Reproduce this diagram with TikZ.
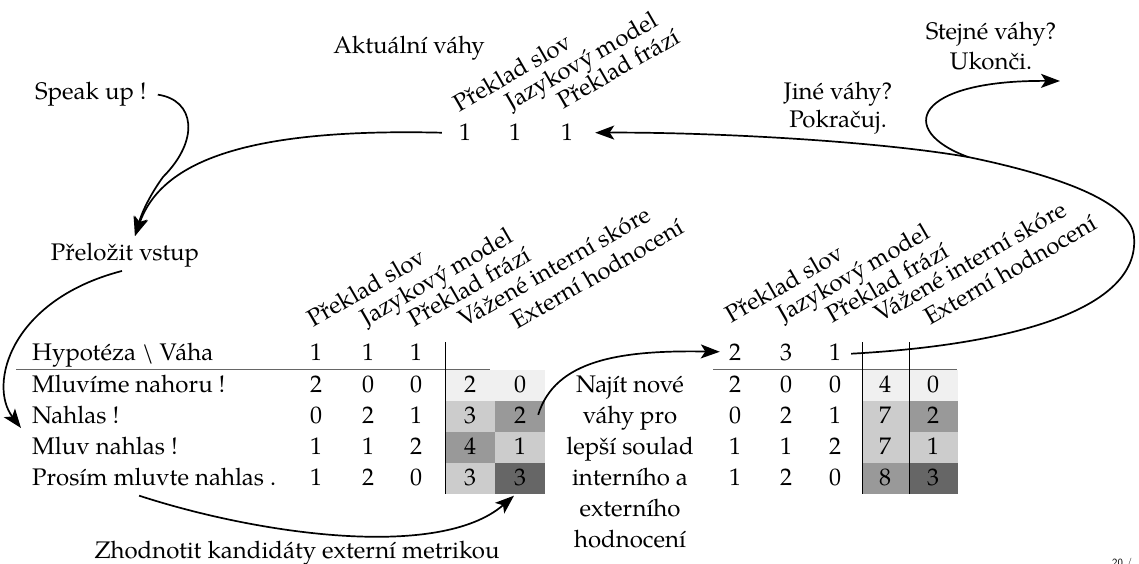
\documentclass[tikz,border=0pt]{standalone}
\usepackage{fontspec}
\setmainfont{TeX Gyre Pagella}
\usetikzlibrary{arrows.meta}
\definecolor{cA}{gray}{0.94}
\definecolor{cB}{gray}{0.80}
\definecolor{cC}{gray}{0.60}
\definecolor{cD}{gray}{0.40}
\begin{document}
\begin{tikzpicture}[x=1pt,y=-1pt,
  txt/.style={inner sep=0pt,font=\fontsize{24}{29}\selectfont},
  lbl/.style={txt,anchor=base},
  lblw/.style={txt,anchor=base west},
  hdr/.style={txt,anchor=base west,rotate=30},
  conn/.style={line width=1.7pt,-{Stealth[length=19pt,width=14pt,inset=4.5pt]}},
  hrule/.style={line width=1.5pt,draw=black!60},
  vrule/.style={line width=0.9pt},
]
\useasboundingbox (0,0) rectangle (1139,564);

% ---------- top: current weights ----------
\node[lbl] (akt) at (409,54) {Aktuální váhy};
\node[hdr] (t1) at (459,113) {Překlad slov};
\node[hdr] (t2) at (511,111) {Jazykový model};
\node[hdr] (t3) at (563,110) {Překlad frází};
\node[lbl] (w1) at (465,141) {1};
\node[lbl] (w2) at (515,141) {1};
\node[lbl] (w3) at (567,141) {1};

\node[lblw] (speak) at (35,100) {Speak up !};
\node[lbl] (trans) at (125,260) {Přeložit vstup};
\node[lbl] (jine1) at (838,100) {Jiné váhy?};
\node[lbl] (jine2) at (838,128) {Pokračuj.};
\node[lbl] (stej1) at (991,40) {Stejné váhy?};
\node[lbl] (stej2) at (991,70) {Ukonči.};

% ---------- left table ----------
\foreach \i/\a/\b in {1/cA/cA, 2/cB/cC, 3/cC/cB, 4/cB/cD} {
  \fill[\a] (445,{338.5+31*\i}) rectangle (495,{369.5+31*\i});
  \fill[\b] (495,{338.5+31*\i}) rectangle (545,{369.5+31*\i});
}
\draw[hrule] (16,369.5) -- (490,369.5);
\draw[vrule] (445,342) -- (445,493.5);

\node[hdr] (lt1) at (313,328) {Překlad slov};
\node[hdr] (lt2) at (366,327) {Jazykový model};
\node[hdr] (lt3) at (414,328) {Překlad frází};
\node[hdr] (lt4) at (464,328) {Vážené interní skóre};
\node[hdr] (lt5) at (517,330) {Externí hodnocení};

\node[lblw] (hyp) at (32,360) {Hypotéza \textbackslash{} Váha};
\node[lbl] (lh1) at (316,360) {1};
\node[lbl] (lh2) at (368,360) {1};
\node[lbl] (lh3) at (416,360) {1};

\foreach \i/\t/\a/\b/\c/\d/\e in {
  1/{Mluvíme nahoru !}/2/0/0/2/0,
  2/{Nahlas !}/0/2/1/3/2,
  3/{Mluv nahlas !}/1/1/2/4/1,
  4/{Prosím mluvte nahlas .}/1/2/0/3/3} {
  \pgfmathsetmacro\yy{361+31*\i}
  \node[lblw] (r\i) at (32,\yy) {\t};
  \node[lbl] (la\i) at (316,\yy) {\a};
  \node[lbl] (lb\i) at (368,\yy) {\b};
  \node[lbl] (lc\i) at (416,\yy) {\c};
  \node[lbl] (ld\i) at (470,\yy) {\d};
  \node[lbl] (le\i) at (520,\yy) {\e};
}

\node[lbl] (zh) at (297,558) {Zhodnotit kandidáty externí metrikou};

% ---------- middle text ----------
\node[lbl] (n1) at (630,392) {Najít nové};
\node[lbl] (n2) at (630,423) {váhy pro};
\node[lbl] (n3) at (630,454) {lepší soulad};
\node[lbl] (n4) at (630,485) {interního a};
\node[lbl] (n5) at (630,516) {externího};
\node[lbl] (n6) at (630,547) {hodnocení};

% ---------- right table ----------
\foreach \i/\a/\b in {1/cA/cA, 2/cB/cC, 3/cB/cB, 4/cC/cD} {
  \fill[\a] (862,{338.5+31*\i}) rectangle (909,{369.5+31*\i});
  \fill[\b] (909,{338.5+31*\i}) rectangle (958,{369.5+31*\i});
}
\draw[hrule] (713,369.5) -- (957,369.5);
\draw[vrule] (862,342) -- (862,493.5);
\draw[vrule] (909,342) -- (909,493.5);

\node[hdr] (rt1) at (731,324) {Překlad slov};
\node[hdr] (rt2) at (783,323) {Jazykový model};
\node[hdr] (rt3) at (832,324) {Překlad frází};
\node[hdr] (rt4) at (880,323) {Vážené interní skóre};
\node[hdr] (rt5) at (930,326) {Externí hodnocení};

\node[lbl] (ra0) at (735,360) {2};
\node[lbl] (rb0) at (786,360) {3};
\node[lbl] (rc0) at (835,360) {1};

\foreach \i/\a/\b/\c/\d/\e in {
  1/2/0/0/4/0,
  2/0/2/1/7/2,
  3/1/1/2/7/1,
  4/1/2/0/8/3} {
  \pgfmathsetmacro\yy{361+31*\i}
  \node[lbl] (ra\i) at (735,\yy) {\a};
  \node[lbl] (rb\i) at (786,\yy) {\b};
  \node[lbl] (rc\i) at (835,\yy) {\c};
  \node[lbl] (rd\i) at (885,\yy) {\d};
  \node[lbl] (re\i) at (933,\yy) {\e};
}

\node[font=\sffamily\fontsize{11}{12}\selectfont,anchor=north west,inner sep=0pt] (pg) at (1112,558) {20 /};

% ---------- connectors ----------
\coordinate (tin) at (135,236);
\coordinate (nin) at (21,428);
\coordinate (fork) at (968,157);
\coordinate (loopend) at (1060,81);

\draw[conn] ([xshift=11pt]speak.east) .. controls (195,100) and (200,140) .. (163,177)
  .. controls (150,195) and (142,212) .. (tin);
\draw[conn] ([xshift=-17pt]w1.west) .. controls (250,128) and (162,160) .. (tin);
\draw[conn] ([xshift=-3pt,yshift=-4pt]trans.south) .. controls (10,300) and (-12,385) .. (nin);
\draw[conn] ([xshift=-15pt,yshift=-10pt]r4.south) .. controls (260,535) and (440,560) .. ([xshift=-6pt,yshift=-10pt]le4.south);
\draw[conn] ([xshift=12pt]le2.east) .. controls (555,360) and (620,350) .. ([xshift=-9pt]ra0.west);
\draw[conn] ([xshift=10pt,yshift=-2pt]rc0.east) .. controls (1010,345) and (1140,310) .. (1134,237)
  .. controls (1132,205) and (1070,178) .. (fork)
  .. controls (870,140) and (700,132) .. ([xshift=22pt]w3.east);
\draw[conn] (fork) .. controls (895,130) and (915,80) .. (loopend);
\end{tikzpicture}
\end{document}
